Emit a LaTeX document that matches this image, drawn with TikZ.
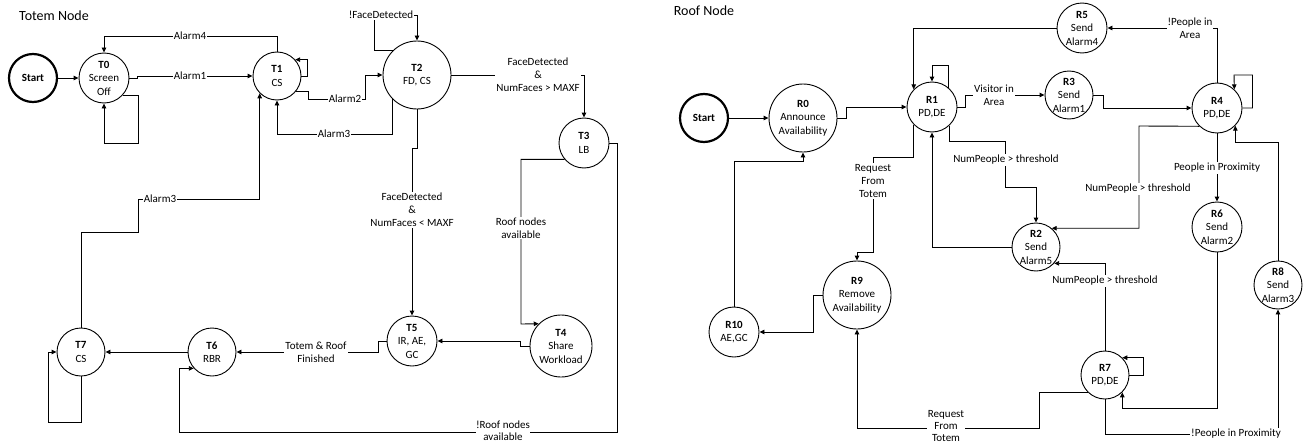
\documentclass[tikz,border=0pt]{standalone}
\usepackage{fontspec}
\setmainfont{Carlito}
\usetikzlibrary{arrows.meta}
\begin{document}
\begin{tikzpicture}[x=1pt,y=-1pt,
 line width=0.9pt,
 arr/.style={-{Triangle[length=5pt,width=4.5pt]}},
 st/.style={circle,draw,line width=0.9pt,fill=white,inner sep=0pt,align=center,minimum size=#1,font=\fontsize{11}{13.5}\selectfont},
 startst/.style={circle,draw,line width=2.2pt,fill=white,inner sep=0pt,minimum size=48pt,font=\bfseries\fontsize{11}{13}\selectfont},
 lbl/.style={fill=white,inner sep=1pt,align=center,font=\fontsize{11}{13}\selectfont},
 lblt/.style={fill=white,inner sep=0.5pt,align=center,font=\fontsize{11}{12}\selectfont},
 titlest/.style={font=\fontsize{14}{16}\selectfont}]
\useasboundingbox (0,0) rectangle (1308,444);
% ---------- Totem Node ----------
\node[titlest] (tt) at (54,16) {Totem Node};
\node[startst] (S1) at (33,78) {Start};
\node[st=50pt] (T0) at (104,78) {\textbf{T0}\\Screen\\Off};
\node[st=48pt] (T1) at (277,76) {\textbf{T1}\\CS};
\node[st=68pt] (T2) at (417,75) {\textbf{T2}\\FD, CS};
\node[st=50pt] (T3) at (584,143) {\textbf{T3}\\LB};
\node[st=62pt] (T4) at (561,346) {\textbf{T4}\\Share\\Workload};
\node[st=50pt] (T5) at (412,341) {\textbf{T5}\\IR, AE,\\GC};
\node[st=48pt] (T6) at (212,352) {\textbf{T6}\\RBR};
\node[st=48pt] (T7) at (81,352) {\textbf{T7}\\CS};

\draw[arr] (S1) -- (T0);
\draw[arr] (T0.-42) -| (138,143) -| (T0.south);
\draw[arr] (T0.east) -- ++(8,0) |- (T1.west);
\draw[arr] (T1.north) -- (277,36) -| (T0.north);
\draw[arr] (T1.east) -- ++(6,0) |- (T1.42);
\draw[arr] (T1.-39) -| (308,99) -| (365,75) -- (T2.west);
\draw[arr] (T2.south west) |- (277,134) -- (T1.south);
\draw[arr] (T2.north west) -| (374,15) -| (T2.north);
\draw[arr] (T2.east) -| (T3.north);
\draw[arr] (T3.-140) -| (521,324) -- (T4.north west);
\draw[arr] (T4.west) -- ++(-9,0) |- (T5.east);
\draw[arr] (T2.south) -- (417,148) -| (T5.north);
\draw[arr] (T5.west) -- ++(-8,0) |- (T6.east);
\draw[arr] (T6) -- (T7);
\draw[arr] (T7.south) |- (48,422) |- (T7.west);
\draw[arr] (T7.north) |- (138,232) -- (138,199) -| (T1.south west);
\draw[arr] (T3.east) -| (617,432) -- (179,432) |- (T6.-138);

\node[lbl] (l1) at (190,76) {Alarm1};
\node[lbl] (l2) at (190,36) {Alarm4};
\node[lbl] (l3) at (345,99) {Alarm2};
\node[lbl] (l4) at (334,134) {Alarm3};
\node[lbl] (l5) at (160,199) {Alarm3};
\node[lbl] (l6) at (381,15) {!FaceDetected};
\node[lbl] (l7) at (538,75) {FaceDetected\\\&\\NumFaces > MAXF};
\node[lbl] (l8) at (412,210) {FaceDetected\\\&\\NumFaces < MAXF};
\node[lbl] (l9) at (521,228) {Roof nodes\\available};
\node[lbl] (l10) at (316,352) {Totem \& Roof\\Finished};
\node[lblt] (l11) at (503,431) {!Roof nodes\\available};

% ---------- Roof Node ----------
\node[titlest] (rt) at (704,11) {Roof Node};
\node[startst] (S2) at (704,118) {Start};
\node[st=68pt] (R0) at (803,118) {\textbf{R0}\\Announce\\Availability};
\node[st=50pt] (R1) at (932,107) {\textbf{R1}\\PD,DE};
\node[st=48pt] (R2) at (1036,247) {\textbf{R2}\\Send\\Alarm5};
\node[st=48pt] (R3) at (1069,95) {\textbf{R3}\\Send\\Alarm1};
\node[st=50pt] (R4) at (1217,108) {\textbf{R4}\\PD,DE};
\node[st=50pt] (R5) at (1082,28) {\textbf{R5}\\Send\\Alarm4};
\node[st=50pt] (R6) at (1217,227) {\textbf{R6}\\Send\\Alarm2};
\node[st=48pt] (R7) at (1105,375) {\textbf{R7}\\PD,DE};
\node[st=48pt] (R8) at (1278,285) {\textbf{R8}\\Send\\Alarm3};
\node[st=68pt] (R9) at (857,295) {\textbf{R9}\\Remove\\Availability};
\node[st=50pt] (R10) at (734,332) {\textbf{R10}\\AE,GC};

\draw[arr] (S2) -- (R0);
\draw[arr] (R0.east) -- ++(9,0) |- (R1.west);
\draw[arr] (R1.50) |- (932,65) -- (R1.north);
\draw[arr] (R5.west) -| (R1.136);
\draw[arr] (R1.east) -- ++(8,0) |- (R3.west);
\draw[arr] (R3.east) -- ++(10,0) |- (R4.west);
\draw[arr] (R4.east) -- ++(10,0) |- (1234,75) -- (R4.47);
\draw[arr] (R4.north) |- (R5.east);
\draw[arr] (R4.south) -- (R6.north);
\draw[arr] (R4.-134) -- (1139,126) |- (R2.50);
\draw[arr] (R1.-47) |- (1005,141) -- (1005,187) -| (R2.north);
\draw[arr] (R2.west) -| (R1.south);
\draw[arr] (R1.-136) |- (873,157) -- (873,252) -| (R9.north);
\draw[arr] (R9.west) -- ++(-9,0) |- (R10.east);
\draw[arr] (R10.north) -- (734,161) -| (R0.south);
\draw[arr] (R7.south west) -| (1039,428) -| (R9.south);
\draw[arr] (R7.east) -- ++(14,0) |- (R7.45);
\draw[arr] (R7.north) |- (R2.-42);
\draw[arr] (R6.south) -- (1217,408) -| (R7.-45);
\draw[arr] (R7.south) |- (1278,434) -- (R8.south);
\draw[arr] (R8.north) -- (1278,142) -| (R4.-44);

\node[lbl] (m1) at (994,95) {Visitor in\\Area};
\node[lbl] (m2) at (1006,160) {NumPeople > threshold};
\node[lbl] (m3) at (873,181) {Request\\From\\Totem};
\node[lbl] (m4) at (1190,28) {!People in\\Area};
\node[lbl] (m5) at (1217,168) {People in Proximity};
\node[lbl] (m6) at (1138,189) {NumPeople > threshold};
\node[lbl] (m7) at (1105,281) {NumPeople > threshold};
\node[lblt] (m8) at (946,426) {Request\\From\\Totem};
\node[lbl] (m9) at (1236,434) {!People in Proximity};
\end{tikzpicture}
\end{document}
